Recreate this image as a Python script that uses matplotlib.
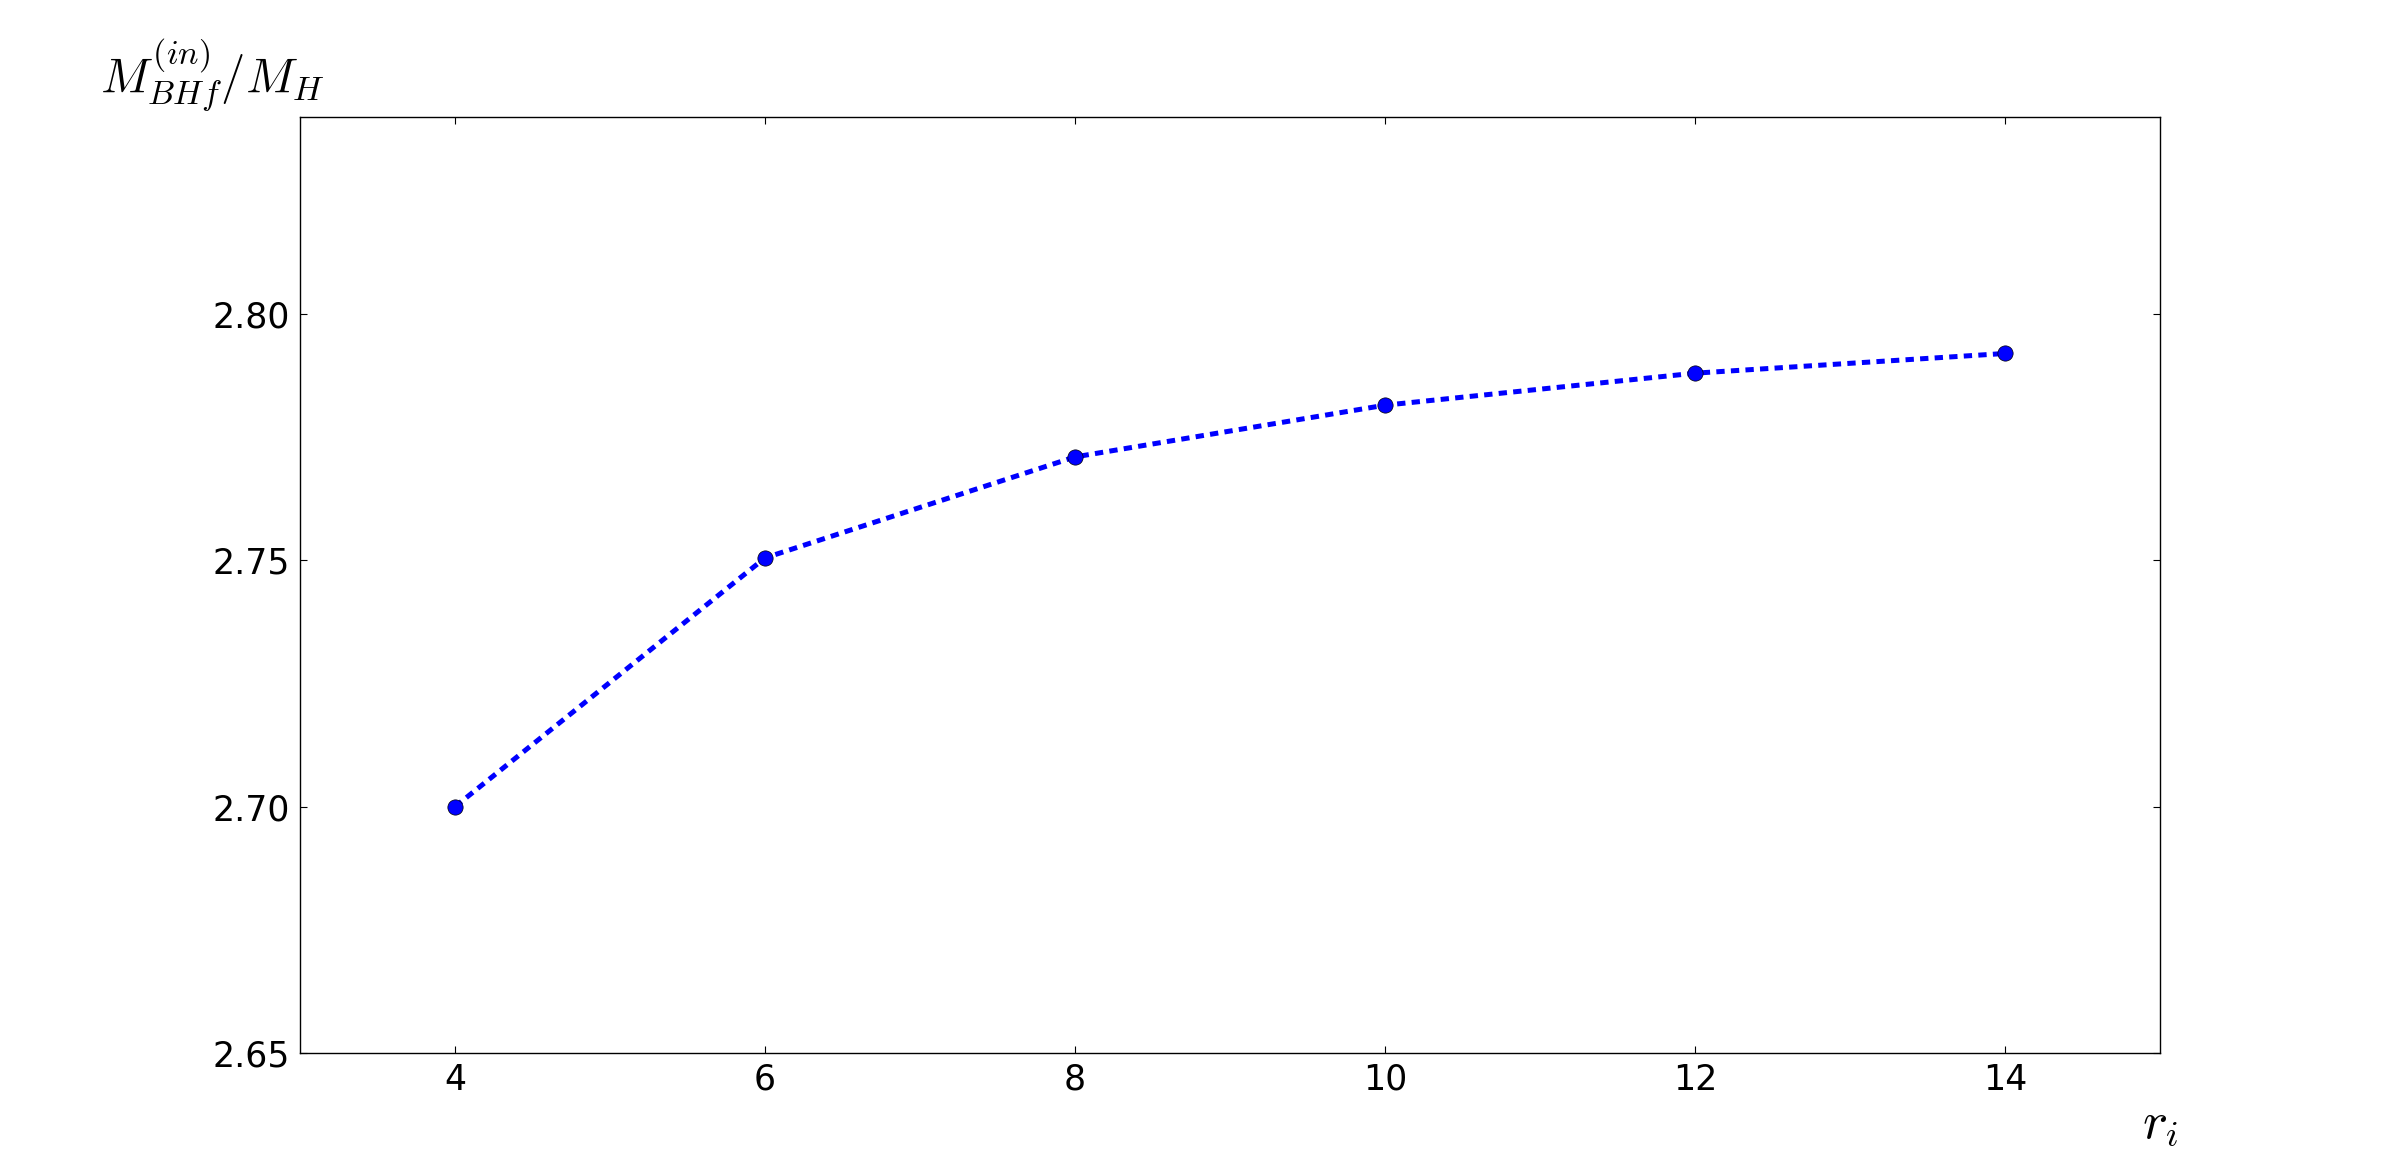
import matplotlib
matplotlib.use('Agg')
import matplotlib.pyplot as plt

# data
r_i = [4, 6, 8, 10, 12, 14]
mass_ratio = [2.700, 2.7505, 2.771, 2.7815, 2.788, 2.792]

plt.rcParams['mathtext.fontset'] = 'cm'
plt.rcParams['font.family'] = 'DejaVu Sans'
plt.rcParams['lines.scale_dashes'] = False

fig = plt.figure(figsize=(24, 11.7), dpi=100)
ax = fig.add_subplot(111)
fig.subplots_adjust(left=0.125, right=0.9, bottom=0.1, top=0.9)

ax.plot(r_i, mass_ratio, color='blue', linestyle='--', dashes=(6, 4.5),
        linewidth=3.6, marker='o', markersize=11, markerfacecolor='blue',
        markeredgecolor='black', markeredgewidth=0.5, dash_capstyle='butt')

ax.set_xlim(3, 15)
ax.set_ylim(2.65, 2.84)
ax.set_xticks([4, 6, 8, 10, 12, 14])
ax.set_yticks([2.65, 2.70, 2.75, 2.80])
ax.set_yticklabels(['2.65', '2.70', '2.75', '2.80'])

ax.tick_params(direction='in', top=True, right=True, length=5, width=0.8,
               labelsize=25, pad=7)
for s in ax.spines.values():
    s.set_linewidth(1.0)

ax.set_xlabel(r'$r_i$', fontsize=38, va='center')
ax.xaxis.set_label_coords(1.0, -0.075)
ax.set_ylabel(r'$M^{(in)}_{BHf}/M_H$', fontsize=35, rotation=0,
              ha='center', va='center')
ax.yaxis.set_label_coords(-0.047, 1.045)

fig.savefig('out.png', dpi=100, facecolor='white')
